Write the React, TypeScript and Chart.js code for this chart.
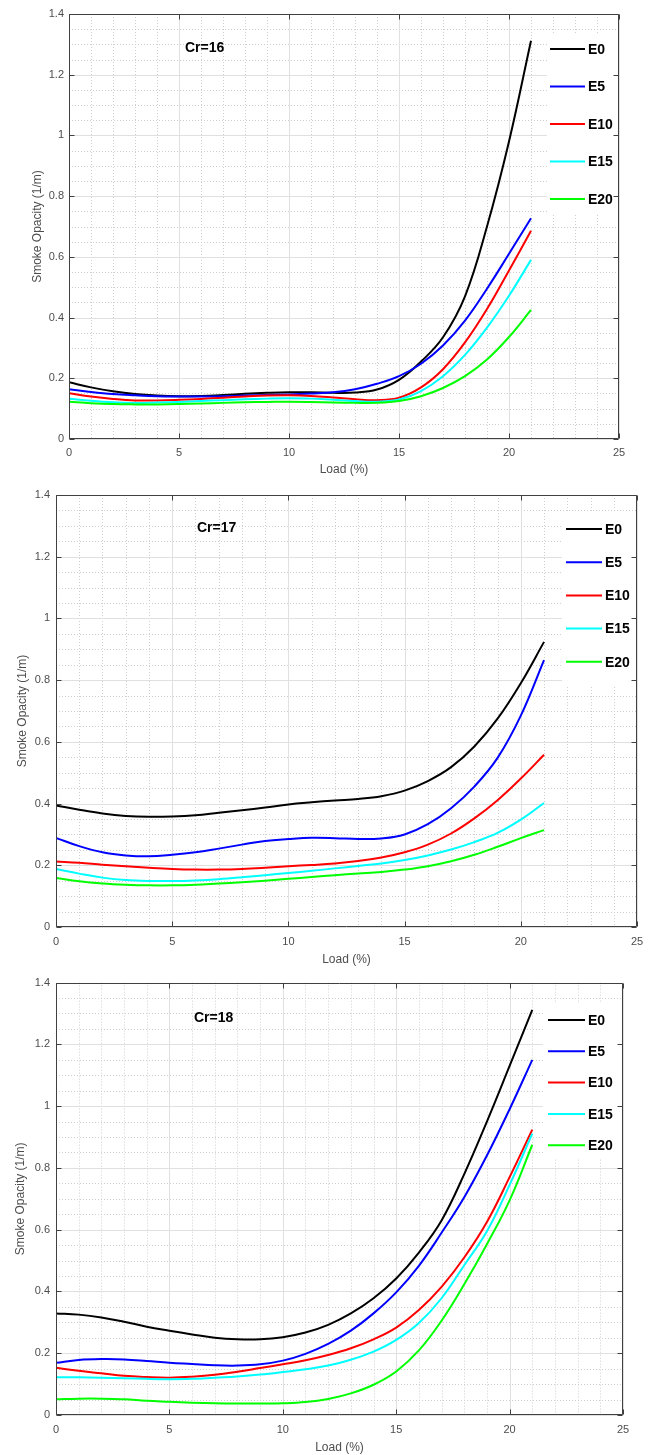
import React, { useEffect, useRef } from 'react';
import { Chart, registerables } from 'chart.js';

Chart.register(...registerables);

// ---------- DATA ----------
const loads = [0, 1, 2, 3, 4, 5, 6, 7, 8, 9, 10, 11, 12, 13, 14, 15, 16, 17, 18, 19, 20, 21];
const seriesNames = ['E0', 'E5', 'E10', 'E15', 'E20'];
const panelTitles = ['Cr=16', 'Cr=17', 'Cr=18'];
const xAxisLabel = 'Load (%)';
const yAxisLabel = 'Smoke Opacity (1/m)';
const xTickValues = [0, 5, 10, 15, 20, 25];
const yTickValues = [0, 0.2, 0.4, 0.6, 0.8, 1, 1.2, 1.4];

// Cr = 16
const cr16E0 = [0.187, 0.17, 0.157, 0.148, 0.143, 0.141, 0.142, 0.145, 0.149, 0.152, 0.154, 0.154, 0.152, 0.153, 0.163, 0.195, 0.255, 0.335, 0.47, 0.7, 0.98, 1.312];
const cr16E5 = [0.164, 0.155, 0.148, 0.144, 0.141, 0.14, 0.14, 0.141, 0.143, 0.145, 0.147, 0.15, 0.154, 0.164, 0.182, 0.207, 0.248, 0.308, 0.39, 0.495, 0.61, 0.727];
const cr16E10 = [0.151, 0.14, 0.132, 0.127, 0.127, 0.129, 0.132, 0.136, 0.14, 0.143, 0.144, 0.142, 0.137, 0.131, 0.128, 0.136, 0.17, 0.23, 0.318, 0.428, 0.555, 0.686];
const cr16E15 = [0.133, 0.126, 0.121, 0.119, 0.12, 0.122, 0.125, 0.128, 0.131, 0.133, 0.134, 0.133, 0.129, 0.125, 0.123, 0.13, 0.158, 0.207, 0.277, 0.367, 0.472, 0.59];
const cr16E20 = [0.123, 0.118, 0.115, 0.114, 0.114, 0.115, 0.117, 0.119, 0.121, 0.122, 0.123, 0.122, 0.12, 0.119, 0.119, 0.125, 0.141, 0.168, 0.207, 0.262, 0.336, 0.425];

// Cr = 17
const cr17E0 = [0.394, 0.38, 0.368, 0.36, 0.357, 0.358, 0.362, 0.37, 0.378, 0.387, 0.397, 0.404, 0.41, 0.415, 0.424, 0.442, 0.473, 0.518, 0.585, 0.675, 0.79, 0.924];
const cr17E5 = [0.289, 0.262, 0.242, 0.232, 0.229, 0.234, 0.242, 0.254, 0.267, 0.279, 0.285, 0.289, 0.288, 0.285, 0.287, 0.3, 0.333, 0.385, 0.455, 0.548, 0.685, 0.865];
const cr17E10 = [0.212, 0.208, 0.202, 0.197, 0.192, 0.188, 0.186, 0.186, 0.188, 0.192, 0.197, 0.201, 0.206, 0.214, 0.225, 0.242, 0.267, 0.303, 0.352, 0.411, 0.481, 0.558];
const cr17E15 = [0.188, 0.173, 0.16, 0.152, 0.149, 0.149, 0.151, 0.155, 0.161, 0.168, 0.175, 0.182, 0.19, 0.198, 0.206, 0.217, 0.232, 0.251, 0.275, 0.305, 0.348, 0.402];
const cr17E20 = [0.159, 0.148, 0.141, 0.137, 0.135, 0.135, 0.137, 0.141, 0.145, 0.15, 0.156, 0.162, 0.168, 0.173, 0.178, 0.186, 0.197, 0.213, 0.234, 0.26, 0.288, 0.314];

// Cr = 18
const cr18E0 = [0.329, 0.325, 0.316, 0.302, 0.286, 0.273, 0.261, 0.25, 0.245, 0.245, 0.252, 0.267, 0.292, 0.329, 0.378, 0.442, 0.526, 0.63, 0.78, 0.95, 1.13, 1.312];
const cr18E5 = [0.169, 0.178, 0.181, 0.18, 0.175, 0.169, 0.165, 0.161, 0.16, 0.164, 0.176, 0.198, 0.23, 0.273, 0.329, 0.397, 0.483, 0.59, 0.705, 0.84, 0.99, 1.15];
const cr18E10 = [0.153, 0.143, 0.135, 0.127, 0.123, 0.121, 0.124, 0.13, 0.14, 0.152, 0.164, 0.177, 0.194, 0.216, 0.245, 0.283, 0.34, 0.415, 0.51, 0.625, 0.77, 0.924];
const cr18E15 = [0.122, 0.122, 0.121, 0.119, 0.117, 0.116, 0.117, 0.121, 0.125, 0.131, 0.139, 0.148, 0.16, 0.179, 0.205, 0.243, 0.298, 0.378, 0.485, 0.595, 0.745, 0.911];
const cr18E20 = [0.051, 0.053, 0.053, 0.051, 0.046, 0.043, 0.04, 0.038, 0.037, 0.037, 0.038, 0.042, 0.052, 0.07, 0.098, 0.141, 0.209, 0.305, 0.423, 0.553, 0.695, 0.875];

const panelSeries = [
  [cr16E0, cr16E5, cr16E10, cr16E15, cr16E20],
  [cr17E0, cr17E5, cr17E10, cr17E15, cr17E20],
  [cr18E0, cr18E5, cr18E10, cr18E15, cr18E20],
];

// ---------- STYLE / LAYOUT ----------
const W = 657;
const FONT = '"Liberation Sans", Arial, Helvetica, sans-serif';
const seriesColors = ['#000000', '#0000ff', '#ff0000', '#00ffff', '#00ff00'];
const xMinorStep = 1;
const yMinorStep = 0.05;

const layouts = [
  {
    top: 0, height: 480,
    area: { left: 69, right: 619, top: 14, bottom: 439 },
    legend: { x: 547, top: 33, bottom: 213, line0: 550, line1: 585, textX: 588, y0: 49, dy: 37.5 },
    titleX: 185, titleY: 48, yTitlePad: 30, yTickPad: 5, xTickPad: 7, xTitlePad: 3,
  },
  {
    top: 480, height: 490,
    area: { left: 56, right: 637, top: 15, bottom: 447 },
    legend: { x: 562, top: 33, bottom: 207, line0: 566, line1: 602, textX: 605, y0: 49, dy: 33.2 },
    titleX: 197, titleY: 48, yTitlePad: 15, yTickPad: 6, xTickPad: 8, xTitlePad: 3,
  },
  {
    top: 970, height: 485,
    area: { left: 56, right: 623, top: 12, bottom: 445 },
    legend: { x: 543, top: 33, bottom: 188, line0: 548, line1: 585, textX: 588, y0: 50, dy: 31.3 },
    titleX: 194, titleY: 48, yTitlePad: 13, yTickPad: 6, xTickPad: 8, xTitlePad: 0,
  },
];

function stepValues(min: number, max: number, step: number) {
  const out: number[] = [];
  const n = Math.round((max - min) / step);
  for (let k = 0; k <= n; k++) out.push(+(min + k * step).toFixed(6));
  return out;
}

function isMajor(v: number, majors: number[]) {
  return majors.some((m) => Math.abs(m - v) < 1e-6);
}

const framePlugin = {
  id: 'matlabFrame',
  beforeDatasetsDraw(chart: any) {
    const { ctx, chartArea } = chart;
    const { left, right, top, bottom } = chartArea;
    const xs = chart.scales.x;
    const ys = chart.scales.y;
    ctx.save();
    // minor dotted grid
    ctx.lineWidth = 1;
    ctx.strokeStyle = '#cfcfcf';
    ctx.setLineDash([1, 2]);
    ctx.beginPath();
    for (const v of stepValues(xs.min, xs.max, xMinorStep)) {
      if (isMajor(v, xTickValues)) continue;
      const px = Math.round(xs.getPixelForValue(v)) + 0.5;
      ctx.moveTo(px, top);
      ctx.lineTo(px, bottom);
    }
    for (const v of stepValues(ys.min, ys.max, yMinorStep)) {
      if (isMajor(v, yTickValues)) continue;
      const py = Math.round(ys.getPixelForValue(v)) + 0.5;
      ctx.moveTo(left, py);
      ctx.lineTo(right, py);
    }
    ctx.stroke();
    // major solid grid
    ctx.setLineDash([]);
    ctx.strokeStyle = '#e0e0e0';
    ctx.beginPath();
    for (const v of xTickValues) {
      const px = Math.round(xs.getPixelForValue(v)) + 0.5;
      ctx.moveTo(px, top);
      ctx.lineTo(px, bottom);
    }
    for (const v of yTickValues) {
      const py = Math.round(ys.getPixelForValue(v)) + 0.5;
      ctx.moveTo(left, py);
      ctx.lineTo(right, py);
    }
    ctx.stroke();
    ctx.restore();
  },
  afterDatasetsDraw(chart: any, _args: any, opts: any) {
    const { ctx, chartArea } = chart;
    const { left, right, top, bottom } = chartArea;
    const xs = chart.scales.x;
    const ys = chart.scales.y;
    const lg = opts.legend;
    ctx.save();
    // legend box
    ctx.fillStyle = '#ffffff';
    ctx.fillRect(lg.x, lg.top, right - lg.x, lg.bottom - lg.top);
    chart.data.datasets.forEach((ds: any, i: number) => {
      const y = lg.y0 + i * lg.dy;
      ctx.strokeStyle = ds.borderColor;
      ctx.lineWidth = 2;
      ctx.beginPath();
      ctx.moveTo(lg.line0, y);
      ctx.lineTo(lg.line1, y);
      ctx.stroke();
      ctx.fillStyle = '#000000';
      ctx.font = `bold 14px ${FONT}`;
      ctx.textAlign = 'left';
      ctx.textBaseline = 'middle';
      ctx.fillText(ds.label, lg.textX, y + 1);
    });
    // title text inside plot
    ctx.fillStyle = '#000000';
    ctx.font = `bold 14px ${FONT}`;
    ctx.textAlign = 'left';
    ctx.textBaseline = 'middle';
    ctx.fillText(opts.title, opts.titleX, opts.titleY);
    // frame
    const L = Math.round(left) + 0.5;
    const R = Math.round(right) - 0.5;
    const T = Math.round(top) + 0.5;
    const B = Math.round(bottom) - 0.5;
    ctx.strokeStyle = '#404040';
    ctx.lineWidth = 1;
    ctx.beginPath();
    ctx.rect(L, T, R - L, B - T);
    const tl = 5;
    for (const v of xTickValues) {
      const px = Math.round(xs.getPixelForValue(v)) + 0.5;
      ctx.moveTo(px, B);
      ctx.lineTo(px, B - tl);
      ctx.moveTo(px, T);
      ctx.lineTo(px, T + tl);
    }
    for (const v of yTickValues) {
      const py = Math.round(ys.getPixelForValue(v)) + 0.5;
      ctx.moveTo(L, py);
      ctx.lineTo(L + tl, py);
      ctx.moveTo(R, py);
      ctx.lineTo(R - tl, py);
    }
    ctx.stroke();
    ctx.restore();
  },
};

function Panel({ index }: { index: number }) {
  const ref = useRef<HTMLCanvasElement | null>(null);
  const lay = layouts[index];
  useEffect(() => {
    if (!ref.current) return;
    const H = lay.height;
    const datasets = seriesNames.map((name, i) => ({
      label: name,
      data: loads.map((x, k) => ({ x, y: panelSeries[index][i][k] })),
      borderColor: seriesColors[i],
      backgroundColor: seriesColors[i],
      borderWidth: 2,
      pointRadius: 0,
      fill: false,
      tension: 0.4,
      order: seriesNames.length - i,
    }));
    const tickFont = { family: FONT, size: 11 };
    const chart = new Chart(ref.current, {
      type: 'line',
      data: { datasets },
      plugins: [framePlugin],
      options: {
        animation: false,
        responsive: false,
        maintainAspectRatio: false,
        layout: { padding: { left: 0, right: W - lay.area.right, top: lay.area.top, bottom: 0 } },
        plugins: {
          legend: { display: false },
          tooltip: { enabled: false },
          title: { display: false },
          matlabFrame: {
            legend: lay.legend,
            title: panelTitles[index],
            titleX: lay.titleX,
            titleY: lay.titleY,
          },
        } as any,
        scales: {
          x: {
            type: 'linear',
            min: 0,
            max: 25,
            afterBuildTicks: (s: any) => { s.ticks = xTickValues.map((value) => ({ value })); },
            grid: { display: false, drawTicks: false },
            border: { display: false },
            ticks: {
              font: tickFont, color: '#4d4d4d', padding: lay.xTickPad, maxRotation: 0, autoSkip: false,
              callback: (v: any) => String(v),
            },
            title: {
              display: true, text: xAxisLabel, color: '#4d4d4d',
              font: { family: FONT, size: 12 }, padding: { top: 0, bottom: lay.xTitlePad },
            },
            afterFit: (s: any) => { s.height = H - lay.area.bottom; },
          },
          y: {
            type: 'linear',
            min: 0,
            max: 1.4,
            afterBuildTicks: (s: any) => { s.ticks = yTickValues.map((value) => ({ value })); },
            grid: { display: false, drawTicks: false },
            border: { display: false },
            ticks: {
              font: tickFont, color: '#4d4d4d', padding: lay.yTickPad, autoSkip: false,
              callback: (v: any) => String(Number(Number(v).toFixed(1))),
            },
            title: {
              display: true, text: yAxisLabel, color: '#4d4d4d',
              font: { family: FONT, size: 12 }, padding: { top: lay.yTitlePad, bottom: 0 },
            },
            afterFit: (s: any) => { s.width = lay.area.left; },
          },
        },
      } as any,
    });
    return () => chart.destroy();
  }, [index]);
  return (
    <canvas
      ref={ref}
      width={W}
      height={lay.height}
      style={{ position: 'absolute', left: 0, top: lay.top, width: W, height: lay.height, display: 'block' }}
    />
  );
}

export default function App() {
  return (
    <div style={{ position: 'absolute', left: 0, top: 0, width: W, height: 1455, background: '#ffffff' }}>
      <Panel index={0} />
      <Panel index={1} />
      <Panel index={2} />
    </div>
  );
}
